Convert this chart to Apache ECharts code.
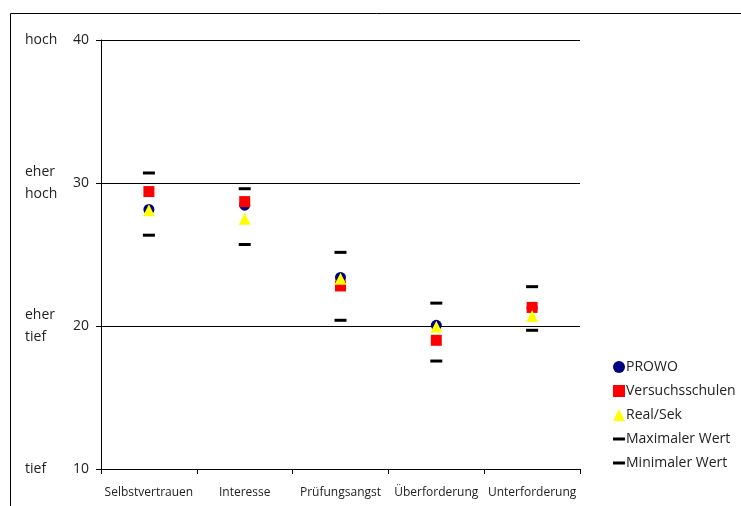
<!DOCTYPE html>
<html>
<head>
<meta charset="utf-8">
<script src="https://cdn.jsdelivr.net/npm/echarts@6/dist/echarts.min.js"></script>
<style>
html,body{margin:0;padding:0;background:#fff;}
#c{width:741px;height:506px;}
</style>
</head>
<body>
<div id="c"></div>
<script>
const categories = ['Selbstvertrauen', 'Interesse', 'Prüfungsangst', 'Überforderung', 'Unterforderung'];
const prowo = [28.15, 28.45, 23.4, 20.05, 21.3];
const versuchsschulen = [29.4, 28.7, 22.8, 19.0, 21.3];
const realSek = [28.1, 27.5, 23.3, 19.95, 20.7];
const maxWert = [30.7, 29.6, 25.15, 21.6, 22.75];
const minWert = [26.35, 25.7, 20.4, 17.55, 19.7];
const yTicks = [10, 20, 30, 40];
const yWords = {10: 'tief', 20: 'eher\ntief', 30: 'eher\nhoch', 40: 'hoch'};

const font = '"Open Sans", "Noto Sans", sans-serif';
const chart = echarts.init(document.getElementById('c'), null, {renderer: 'canvas'});
const dashPath = 'path://M0,0h12v3h-12z';
chart.setOption({
  animation: false,
  textStyle: {fontFamily: font},
  graphic: [{
    type: 'rect', shape: {x: 10.5, y: 13.5, width: 760, height: 520},
    style: {fill: null, stroke: '#000', lineWidth: 1}, silent: true
  }],
  grid: {left: 101, right: 161, top: 40, bottom: 37},
  legend: {
    orient: 'vertical', left: 608, top: 355, itemGap: 10, itemWidth: 12, itemHeight: 12,
    textStyle: {fontFamily: font, fontSize: 14, color: '#222', padding: [0,0,0,-4]},
    data: [
      {name: 'PROWO', icon: 'circle'},
      {name: 'Versuchsschulen', icon: 'rect'},
      {name: 'Real/Sek', icon: 'triangle'},
      {name: 'Maximaler Wert', icon: dashPath},
      {name: 'Minimaler Wert', icon: dashPath}
    ]
  },
  xAxis: {
    type: 'category', data: categories, boundaryGap: true,
    axisLine: {lineStyle: {color: '#000', width: 1}},
    axisTick: {show: true, length: 5, inside: false, lineStyle: {color: '#000'}},
    axisLabel: {color: '#222', fontSize: 12, fontFamily: font, margin: 18, interval: 0},
    splitLine: {show: false}
  },
  yAxis: [{
    type: 'value', min: 10, max: 40, interval: 10,
    axisLine: {show: true, lineStyle: {color: '#000'}},
    axisTick: {show: true, length: 5, lineStyle: {color: '#000'}},
    axisLabel: {color: '#222', fontSize: 14, fontFamily: font, margin: 12},
    splitLine: {show: true, lineStyle: {color: '#000', width: 1}}
  }, {
    type: 'value', min: 10, max: 40, interval: 10, position: 'left',
    axisLine: {show: false}, axisTick: {show: false}, splitLine: {show: false},
    axisLabel: {
      color: '#222', fontSize: 14, fontFamily: font, align: 'left', margin: 76, lineHeight: 22,
      formatter: v => yWords[v] || ''
    }
  }],
  series: [
    {name: 'Maximaler Wert', type: 'scatter', data: maxWert, symbol: 'rect', symbolSize: [12, 3], itemStyle: {color: '#000', opacity: 1}, z: 2},
    {name: 'Minimaler Wert', type: 'scatter', data: minWert, symbol: 'rect', symbolSize: [12, 3], itemStyle: {color: '#000', opacity: 1}, z: 2},
    {name: 'PROWO', type: 'scatter', data: prowo, symbol: 'circle', symbolSize: 11, itemStyle: {color: '#000080', opacity: 1}, z: 3},
    {name: 'Versuchsschulen', type: 'scatter', data: versuchsschulen, symbol: 'rect', symbolSize: 11, itemStyle: {color: '#ff0000', opacity: 1}, z: 4},
    {name: 'Real/Sek', type: 'scatter', data: realSek, symbol: 'triangle', symbolSize: 12, itemStyle: {color: '#ffff00', opacity: 1}, z: 5}
  ]
});
</script>
</body>
</html>
